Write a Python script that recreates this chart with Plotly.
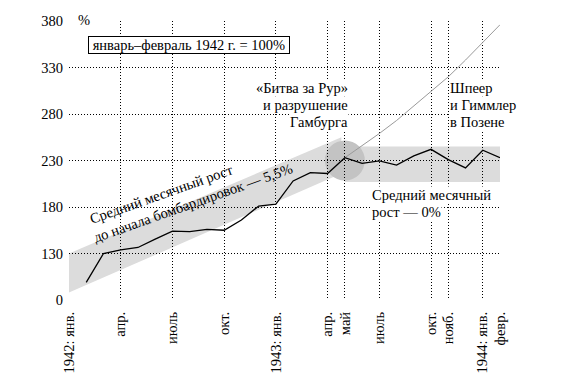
import math
import plotly.graph_objects as go

# ---- data ----
months = list(range(1, 26))  # Feb 1942 .. Feb 1944 (0 = Jan 1942)
index_values = [99, 130, 134, 136.5, 145.5, 154, 153.5, 156, 155, 166, 181,
                183, 208, 217, 216, 233, 227, 229.5, 225, 235, 242, 231, 222,
                241, 233]
trend_months = [16, 17, 18, 19, 20, 21, 22, 23, 24, 25]
trend_values = [233, 246, 259, 273, 289, 304, 320, 338, 357, 376]

tick_months = [0, 3, 6, 9, 12, 15, 16, 18, 21, 22, 24, 25]
tick_labels = ["1942: янв.", "апр.", "июль", "окт.", "1943: янв.", "апр.", "май",
               "июль", "окт.", "нояб.", "1944: янв.", "февр."]
y_ticks = [80, 130, 180, 230, 280, 330, 380]
y_labels = ["0", "130", "180", "230", "280", "330", "380"]

# growth band (before bombing): month, lower, upper
diag_band_months = [0, 15.8]
diag_band_low = [88, 216]
diag_band_high = [130, 255]
# flat band (after)
flat_band_months = [16, 25]
flat_band_low = [207, 207]
flat_band_high = [245, 245]
circle_center = (16, 230)

FONT = "Liberation Serif"
FS = 14.5

W, H = 567, 387
L, R, T, B = 69, 67, 21, 87
pw, ph = W - L - R, H - T - B
def px(xp, yp):
    return (xp - L) / pw, (H - B - yp) / ph

fig = go.Figure()
fig.add_trace(go.Scatter(x=trend_months, y=trend_values, mode="lines",
                         line=dict(color="#9a9a9a", width=1), hoverinfo="skip"))
fig.add_trace(go.Scatter(x=months, y=index_values, mode="lines",
                         line=dict(color="black", width=1.3), hoverinfo="skip"))

fig.add_shape(type="path", layer="below", line=dict(width=0), fillcolor="#dcdcdc",
              path=f"M {diag_band_months[0]} {diag_band_low[0]} L {diag_band_months[0]} {diag_band_high[0]} "
                   f"L {diag_band_months[1]} {diag_band_high[1]} L {diag_band_months[1]} {diag_band_low[1]} Z")
fig.add_shape(type="rect", layer="below", line=dict(width=0), fillcolor="#dcdcdc",
              x0=flat_band_months[0], x1=flat_band_months[1],
              y0=flat_band_low[0], y1=flat_band_high[0])
fig.add_shape(type="circle", layer="below", line=dict(width=0), fillcolor="#c3c3c3",
              xsizemode="pixel", ysizemode="pixel",
              xanchor=circle_center[0], yanchor=circle_center[1],
              x0=-20, x1=20, y0=-20, y1=20)

anns = []
def txt(x, y, s, xanchor="left", size=FS, angle=0, bg="white", border=None, pad=0):
    d = dict(x=x, y=y, xref="paper", yref="paper", text=s, showarrow=False,
             xanchor=xanchor, yanchor="middle", textangle=angle,
             font=dict(family=FONT, size=size, color="black"),
             bgcolor=bg, borderpad=pad)
    if border:
        d.update(bordercolor=border, borderwidth=1)
    anns.append(d)

# percent sign and base box
x, y = px(84, 20.5); txt(x, y, "%", xanchor="center", pad=2)
x, y = px(188.5, 45); txt(x, y, "\u00a0январь–февраль 1942 г. = 100%\u00a0", xanchor="center",
                          border="black", pad=0)
for s, yy in [("«Битва за Рур»", 88), ("и разрушение", 105), ("Гамбурга", 122)]:
    x, y = px(349, yy); txt(x, y, s, xanchor="right")
for s, yy in [("Шпеер", 88), ("и Гиммлер", 105), ("в Позене", 122)]:
    x, y = px(449, yy); txt(x, y, s, xanchor="left")
for s, yy in [("Средний месячный", 195), ("рост — 0%", 212)]:
    x, y = px(371, yy); txt(x, y, s, xanchor="left")

# rotated labels with white halo (between gridlines and traces)
ANG = 19.5
ux, uy = math.cos(math.radians(ANG)), -math.sin(math.radians(ANG))
nx, ny = math.sin(math.radians(ANG)), math.cos(math.radians(ANG))
rot_lines = [("Средний месячный рост", 161.5, 194, 80), ("до начала бомбардировок — 5,5%", 192.5, 203, 105)]
for s, cx, cy, hl in rot_lines:
    hh = 7.5
    pts = [(cx - hl * ux - hh * nx, cy - hl * uy - hh * ny),
           (cx + hl * ux - hh * nx, cy + hl * uy - hh * ny),
           (cx + hl * ux + hh * nx, cy + hl * uy + hh * ny),
           (cx - hl * ux + hh * nx, cy - hl * uy + hh * ny)]
    pp = [px(a, b) for a, b in pts]
    path = "M " + " L ".join(f"{a:.5f} {b:.5f}" for a, b in pp) + " Z"
    fig.add_shape(type="path", xref="paper", yref="paper", layer="between",
                  line=dict(width=0), fillcolor="white", path=path)
for s, cx, cy, hl in rot_lines:
    x, y = px(cx, cy); txt(x, y, s, xanchor="center", angle=-ANG, bg="rgba(0,0,0,0)")

fig.update_layout(
    width=W, height=H, margin=dict(l=L, r=R, t=T, b=B),
    paper_bgcolor="white", plot_bgcolor="white", showlegend=False,
    font=dict(family=FONT, size=FS, color="black"),
    annotations=anns,
    xaxis=dict(range=[0, 25], tickmode="array", tickvals=tick_months, ticktext=tick_labels,
               tickangle=-90, showgrid=True, gridcolor="black", griddash="1px,2px", gridwidth=1,
               zeroline=False, showline=False, ticks="", ticklabelstandoff=8,
               tickfont=dict(family=FONT, size=FS)),
    yaxis=dict(range=[80, 380], tickmode="array", tickvals=y_ticks, ticktext=y_labels,
               showgrid=True, gridcolor="black", griddash="1px,2px", gridwidth=1,
               zeroline=False, showline=False, ticks="", ticklabelstandoff=5,
               tickfont=dict(family=FONT, size=FS)),
)
fig.write_html("out.html", config={"displayModeBar": False},
               post_script="document.body.style.margin='0';")
